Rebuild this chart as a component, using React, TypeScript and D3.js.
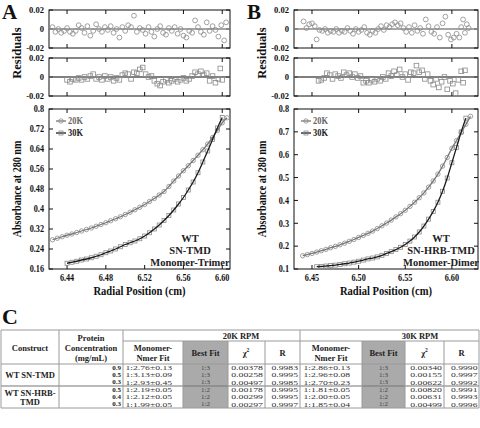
import React from "react";
import * as d3 from "d3";

const FONT = "Liberation Serif, Times New Roman, serif";

// ---------- Panel A : WT SN-TMD, Monomer-Trimer ----------
const aX20 = [6.425, 6.43, 6.435, 6.44, 6.445, 6.45, 6.455, 6.46, 6.465, 6.47, 6.475, 6.48, 6.485, 6.49, 6.495, 6.5, 6.505, 6.51, 6.515, 6.52, 6.525, 6.53, 6.535, 6.54, 6.545, 6.55, 6.555, 6.56, 6.565, 6.57, 6.575, 6.58, 6.585, 6.59, 6.595, 6.6, 6.605];
const aY20 = [0.277, 0.283, 0.289, 0.295, 0.3, 0.306, 0.312, 0.318, 0.324, 0.331, 0.338, 0.345, 0.353, 0.361, 0.369, 0.378, 0.387, 0.397, 0.407, 0.418, 0.43, 0.442, 0.456, 0.47, 0.49, 0.512, 0.532, 0.553, 0.573, 0.594, 0.615, 0.637, 0.66, 0.686, 0.714, 0.745, 0.765];
const aX30 = [6.44, 6.445, 6.45, 6.455, 6.46, 6.465, 6.47, 6.475, 6.48, 6.485, 6.49, 6.495, 6.5, 6.505, 6.51, 6.515, 6.52, 6.525, 6.53, 6.535, 6.54, 6.545, 6.55, 6.555, 6.56, 6.565, 6.57, 6.575, 6.58, 6.585, 6.59, 6.595, 6.6];
const aY30 = [0.183, 0.187, 0.191, 0.196, 0.2, 0.205, 0.211, 0.217, 0.225, 0.232, 0.24, 0.249, 0.258, 0.265, 0.272, 0.281, 0.292, 0.305, 0.32, 0.336, 0.354, 0.374, 0.396, 0.42, 0.446, 0.476, 0.508, 0.545, 0.588, 0.632, 0.678, 0.724, 0.766];
const aResX20 = [6.425, 6.428, 6.431, 6.434, 6.437, 6.44, 6.443, 6.446, 6.449, 6.452, 6.455, 6.458, 6.461, 6.464, 6.467, 6.47, 6.473, 6.476, 6.479, 6.482, 6.485, 6.488, 6.491, 6.494, 6.497, 6.5, 6.503, 6.506, 6.509, 6.512, 6.515, 6.518, 6.521, 6.524, 6.527, 6.53, 6.533, 6.536, 6.539, 6.542, 6.545, 6.548, 6.551, 6.554, 6.557, 6.56, 6.563, 6.566, 6.569, 6.572, 6.575, 6.578, 6.581, 6.584, 6.587, 6.59, 6.593, 6.596, 6.599, 6.602, 6.604];
const aResY20 = [0.002, -0.003, 0.0, -0.004, -0.002, 0.001, -0.003, -0.005, -0.002, 0.004, 0.001, -0.004, 0.003, -0.007, -0.002, 0.005, 0.0, -0.003, 0.002, -0.001, 0.003, -0.004, 0.0, -0.009, 0.002, -0.002, 0.004, 0.002, 0.014, -0.003, 0.001, -0.001, -0.005, 0.002, -0.003, -0.008, 0.0, 0.003, -0.004, -0.006, 0.001, -0.002, 0.002, -0.005, 0.0, -0.007, -0.009, -0.002, -0.004, 0.009, 0.002, -0.003, -0.006, 0.007, -0.002, 0.003, -0.001, -0.008, 0.004, -0.012, 0.007];
const aResX30 = [6.44, 6.443, 6.446, 6.449, 6.452, 6.455, 6.458, 6.461, 6.464, 6.467, 6.47, 6.473, 6.476, 6.479, 6.482, 6.485, 6.488, 6.491, 6.494, 6.497, 6.5, 6.503, 6.506, 6.509, 6.512, 6.515, 6.518, 6.521, 6.524, 6.527, 6.53, 6.533, 6.536, 6.539, 6.542, 6.545, 6.548, 6.551, 6.554, 6.557, 6.56, 6.563, 6.566, 6.569, 6.572, 6.575, 6.578, 6.581, 6.584, 6.587, 6.59, 6.593, 6.596, 6.598, 6.6];
const aResY30 = [-0.003, -0.005, -0.002, -0.003, -0.001, -0.003, 0.0, -0.002, 0.001, 0.003, -0.002, 0.0, -0.003, 0.001, -0.002, 0.0, -0.004, -0.001, -0.003, 0.002, 0.004, 0.003, -0.002, 0.005, 0.004, 0.008, 0.01, 0.003, 0.0, 0.001, -0.004, -0.007, -0.009, -0.005, -0.003, -0.006, -0.004, -0.002, -0.005, -0.003, -0.001, -0.004, -0.002, 0.001, 0.005, 0.003, 0.006, 0.002, 0.004, -0.004, 0.001, -0.006, -0.002, 0.009, -0.003];

// ---------- Panel B : WT SN-HRB-TMD, Monomer-Dimer ----------
const bX20 = [6.44, 6.445, 6.45, 6.455, 6.46, 6.465, 6.47, 6.475, 6.48, 6.485, 6.49, 6.495, 6.5, 6.505, 6.51, 6.515, 6.52, 6.525, 6.53, 6.535, 6.54, 6.545, 6.55, 6.555, 6.56, 6.565, 6.57, 6.575, 6.58, 6.585, 6.59, 6.595, 6.6, 6.605, 6.61, 6.615, 6.62];
const bY20 = [0.158, 0.163, 0.168, 0.174, 0.18, 0.186, 0.193, 0.199, 0.206, 0.213, 0.221, 0.229, 0.238, 0.247, 0.256, 0.266, 0.277, 0.289, 0.301, 0.314, 0.328, 0.342, 0.357, 0.374, 0.392, 0.412, 0.433, 0.458, 0.485, 0.515, 0.55, 0.588, 0.628, 0.662, 0.697, 0.733, 0.768];
const bX30 = [6.455, 6.46, 6.465, 6.47, 6.475, 6.48, 6.485, 6.49, 6.495, 6.5, 6.505, 6.51, 6.515, 6.52, 6.525, 6.53, 6.535, 6.54, 6.545, 6.55, 6.555, 6.56, 6.565, 6.57, 6.575, 6.58, 6.585, 6.59, 6.595, 6.6, 6.605, 6.61, 6.615];
const bY30 = [0.11, 0.111, 0.113, 0.115, 0.117, 0.12, 0.123, 0.126, 0.13, 0.134, 0.139, 0.144, 0.148, 0.153, 0.16, 0.168, 0.176, 0.185, 0.195, 0.207, 0.222, 0.24, 0.262, 0.288, 0.318, 0.352, 0.392, 0.44, 0.498, 0.565, 0.632, 0.7, 0.76];
const bResX20 = [6.441, 6.444, 6.447, 6.45, 6.453, 6.455, 6.458, 6.461, 6.464, 6.467, 6.47, 6.473, 6.476, 6.479, 6.482, 6.485, 6.488, 6.491, 6.494, 6.497, 6.5, 6.503, 6.506, 6.509, 6.512, 6.515, 6.518, 6.521, 6.524, 6.527, 6.53, 6.533, 6.536, 6.539, 6.542, 6.545, 6.548, 6.551, 6.554, 6.557, 6.56, 6.563, 6.566, 6.569, 6.572, 6.575, 6.578, 6.581, 6.584, 6.587, 6.59, 6.593, 6.596, 6.599, 6.602, 6.605, 6.608, 6.61, 6.612, 6.614, 6.616, 6.618];
const bResY20 = [0.008, 0.001, 0.005, 0.006, 0.003, -0.011, -0.001, -0.002, 0.0, -0.004, -0.002, -0.003, 0.0, -0.004, -0.002, -0.003, 0.001, -0.002, -0.005, 0.0, -0.003, -0.001, 0.002, -0.004, -0.006, -0.002, -0.004, 0.0, 0.003, -0.001, 0.004, 0.002, 0.005, 0.007, 0.004, 0.006, 0.001, -0.003, 0.002, -0.004, 0.004, -0.002, 0.001, -0.005, 0.01, 0.003, -0.003, -0.005, 0.002, -0.009, 0.006, 0.013, -0.006, -0.011, -0.009, -0.005, -0.009, 0.002, 0.01, -0.004, 0.005, 0.001];
const bResX30 = [6.457, 6.46, 6.463, 6.466, 6.469, 6.472, 6.475, 6.478, 6.481, 6.484, 6.487, 6.49, 6.493, 6.496, 6.499, 6.502, 6.505, 6.508, 6.511, 6.514, 6.517, 6.52, 6.523, 6.526, 6.529, 6.532, 6.535, 6.538, 6.541, 6.544, 6.547, 6.55, 6.553, 6.556, 6.559, 6.562, 6.565, 6.568, 6.571, 6.574, 6.577, 6.58, 6.583, 6.586, 6.589, 6.592, 6.595, 6.598, 6.601, 6.604, 6.607, 6.61, 6.612, 6.614];
const bResY30 = [-0.004, -0.003, -0.001, 0.004, 0.002, -0.002, 0.003, 0.001, -0.001, 0.005, 0.002, 0.004, 0.0, 0.003, -0.001, 0.001, -0.006, -0.004, -0.006, -0.003, -0.005, -0.002, -0.004, 0.0, -0.002, 0.004, 0.001, 0.006, 0.002, 0.008, 0.0, 0.003, -0.003, 0.005, 0.004, 0.012, 0.005, 0.007, -0.002, 0.003, -0.004, -0.008, -0.002, -0.011, -0.005, 0.0, -0.013, -0.004, -0.007, -0.017, -0.003, 0.006, -0.006, 0.007];

// ---------- axis ticks ----------
const aXTicks = [6.44, 6.48, 6.52, 6.56, 6.6];
const bXTicks = [6.45, 6.5, 6.55, 6.6];
const aYTicks = [0.16, 0.24, 0.32, 0.4, 0.48, 0.56, 0.64, 0.72, 0.8];
const bYTicks = [0.1, 0.2, 0.3, 0.4, 0.5, 0.6, 0.7, 0.8];
const resTicks = [-0.02, 0, 0.02];
const seriesNames = ["20K", "30K"];

// ---------- table C ----------
const constructs = [["WT SN-TMD"], ["WT SN-HRB-", "TMD"]];
const concentrations = ["0.9", "0.5", "0.3", "0.5", "0.4", "0.3"];
const fit20 = ["1:2.76±0.13", "1:3.13±0.09", "1:2.93±0.45", "1:2.19±0.05", "1:2.12±0.05", "1:1.99±0.05"];
const best20 = ["1:3", "1:3", "1:3", "1:2", "1:2", "1:2"];
const chi20 = ["0.00378", "0.00258", "0.00497", "0.00178", "0.00299", "0.00297"];
const r20 = ["0.9983", "0.9995", "0.9985", "0.9995", "0.9995", "0.9997"];
const fit30 = ["1:2.86±0.13", "1:2.96±0.08", "1:2.70±0.23", "1:1.81±0.05", "1:2.00±0.05", "1:1.85±0.04"];
const best30 = ["1:3", "1:3", "1:3", "1:2", "1:2", "1:2"];
const chi30 = ["0.00340", "0.00155", "0.00622", "0.00820", "0.00631", "0.00499"];
const r30 = ["0.9990", "0.9997", "0.9992", "0.9991", "0.9993", "0.9996"];

const MARK = "#8a8a8a";

function Circle({ cx, cy, r }: any) {
  return <circle cx={cx} cy={cy} r={r} fill="none" stroke={MARK} strokeWidth={0.8} />;
}
function Square({ cx, cy, s }: any) {
  return <rect x={cx - s / 2} y={cy - s / 2} width={s} height={s} fill="none" stroke={MARK} strokeWidth={0.8} />;
}

// text with optional horizontal scaling (the reference typeface proportions differ)
function T({ x, y, sx = 1, rot = 0, size, color = "#111", weight = "bold", children, ...rest }: any) {
  return (
    <text
      transform={`translate(${x},${y})${rot ? ` rotate(${rot})` : ""} scale(${sx},1)`}
      fontSize={size}
      fontWeight={weight}
      fontFamily={FONT}
      fill={color}
      {...rest}
    >
      {children}
    </text>
  );
}

function Panel(p: any) {
  const { left, right, letter } = p;
  const x = d3.scaleLinear().domain(p.xDomain).range([left, right]);
  const y = d3.scaleLinear().domain(p.yDomain).range([269, 109]);
  const ry1 = d3.scaleLinear().domain([-0.02, 0.02]).range([48, 10]);
  const ry2 = d3.scaleLinear().domain([-0.02, 0.02]).range([96, 58]);
  const line = d3.line<number>().curve(d3.curveMonotoneX);
  const fit20 = line(p.x20.map((v: number, i: number) => [x(v), y(p.y20[i])] as any));
  const fit30 = line(p.x30.map((v: number, i: number) => [x(v), y(p.y30[i])] as any));
  const tl = 4;

  const frame = (top: number, bottom: number, yScale: any, yt: number[], fmt: (v: number) => string, fs: number, sx: number) => (
    <g>
      <rect x={left} y={top} width={right - left} height={bottom - top} fill="none" stroke="#111" strokeWidth={1} />
      {p.xTicks.map((t: number) => (
        <g key={"xt" + t}>
          <line x1={x(t)} x2={x(t)} y1={bottom} y2={bottom - tl} stroke="#111" />
          <line x1={x(t)} x2={x(t)} y1={top} y2={top + tl} stroke="#111" />
        </g>
      ))}
      {yt.map((t) => (
        <g key={"yt" + t}>
          <line x1={left} x2={left + tl} y1={yScale(t)} y2={yScale(t)} stroke="#111" />
          <line x1={right} x2={right - tl} y1={yScale(t)} y2={yScale(t)} stroke="#111" />
          <T x={left - 5} y={yScale(t)} sx={sx} size={fs} textAnchor="end" dominantBaseline="central">
            {fmt(t)}
          </T>
        </g>
      ))}
    </g>
  );

  const resFmt = (v: number) => (v === 0 ? "0" : v.toFixed(2));

  return (
    <g>
      <T x={left - 47} y={19} size={21}>{letter}</T>
      {/* residuals 20K */}
      {frame(10, 48, ry1, resTicks, resFmt, 9, 0.95)}
      <line x1={left} x2={right} y1={ry1(0)} y2={ry1(0)} stroke="#888" strokeWidth={1.5} />
      {p.rx20.map((v: number, i: number) => (
        <Circle key={"r20" + i} cx={x(v)} cy={ry1(p.ry20[i])} r={2.4} />
      ))}
      {/* residuals 30K */}
      {frame(58, 96, ry2, resTicks, resFmt, 9, 0.95)}
      <line x1={left} x2={right} y1={ry2(0)} y2={ry2(0)} stroke="#555" strokeWidth={1.5} />
      {p.rx30.map((v: number, i: number) => (
        <Square key={"r30" + i} cx={x(v)} cy={ry2(p.ry30[i])} s={4.6} />
      ))}
      <T x={left - 32} y={53} rot={-90} size={12.5} textAnchor="middle" dominantBaseline="central">
        Residuals
      </T>

      {/* main plot */}
      {frame(109, 269, y, p.yTicks, p.yFmt, 10, 0.82)}
      {p.xTicks.map((t: number) => (
        <T key={"xl" + t} x={x(t)} y={281} sx={0.82} size={10} textAnchor="middle">
          {d3.format(".2f")(t)}
        </T>
      ))}
      <T x={(left + right) / 2} y={295} sx={0.88} size={12} textAnchor="middle">
        Radial Position (cm)
      </T>
      <T x={left - 32} y={189} rot={-90} sx={0.84} size={12} textAnchor="middle" dominantBaseline="central">
        Absorbance at 280 nm
      </T>

      {p.x20.map((v: number, i: number) => (
        <Circle key={"d20" + i} cx={x(v)} cy={y(p.y20[i])} r={2.2} />
      ))}
      {p.x30.map((v: number, i: number) => (
        <Square key={"d30" + i} cx={x(v)} cy={y(p.y30[i])} s={4} />
      ))}
      <path d={fit20 || ""} fill="none" stroke="#777" strokeWidth={1.3} />
      <path d={fit30 || ""} fill="none" stroke="#1a1a1a" strokeWidth={1.3} />

      {/* legend */}
      <line x1={left + 7} x2={left + 17} y1={121} y2={121} stroke="#777" strokeWidth={1.3} />
      <Circle cx={left + 12} cy={121} r={2.2} />
      <T x={left + 19} y={121} sx={0.8} size={10.5} color="#666" dominantBaseline="central">{seriesNames[0]}</T>
      <line x1={left + 7} x2={left + 17} y1={133} y2={133} stroke="#1a1a1a" strokeWidth={1.3} />
      <Square cx={left + 12} cy={133} s={4} />
      <T x={left + 19} y={133} sx={0.8} size={10.5} color="#222" dominantBaseline="central">{seriesNames[1]}</T>

      {p.ann.map((s: string, i: number) => (
        <T key={s} x={p.annX} y={238 + i * 12} size={10.5} color="#222" textAnchor="middle" dominantBaseline="central">
          {s}
        </T>
      ))}
    </g>
  );
}

function Table() {
  const top = 330, h1 = 341, h2 = 364, bottom = 408;
  const rows = d3.scaleBand<number>().domain(d3.range(concentrations.length)).range([h2, bottom]);
  const cy = (i: number) => (rows(i) as number) + rows.bandwidth() / 2;
  const vAll = [1, 59, 123, 300, 479];
  const vSub = [183, 228, 265, 362, 405, 444];
  const lc = "#9a9a9a";
  const hdr = { fontSize: 8.5, fontWeight: "bold", fontFamily: FONT, fill: "#222", textAnchor: "middle", dominantBaseline: "central" } as any;
  const sep = cy(2) + rows.bandwidth() / 2;
  const C = (props: any) => <T size={7} weight="normal" color="#333" dominantBaseline="central" {...props} />;
  return (
    <g>
      <text x={2} y={324} fontSize={22} fontWeight="bold" fontFamily={FONT} fill="#111">C</text>
      <rect x={183} y={h1} width={45} height={bottom - h1} fill="#aaaaaa" />
      <rect x={362} y={h1} width={43} height={bottom - h1} fill="#aaaaaa" />
      <line x1={1} x2={479} y1={top} y2={top} stroke={lc} />
      <line x1={123} x2={479} y1={h1} y2={h1} stroke={lc} />
      <line x1={1} x2={479} y1={h2} y2={h2} stroke={lc} />
      <line x1={1} x2={479} y1={sep} y2={sep} stroke="#777" strokeWidth={1.2} />
      <line x1={1} x2={479} y1={bottom} y2={bottom} stroke={lc} />
      {vAll.map((v) => <line key={"va" + v} x1={v} x2={v} y1={top} y2={bottom} stroke={lc} />)}
      {vSub.map((v) => <line key={"vs" + v} x1={v} x2={v} y1={h1} y2={bottom} stroke={lc} />)}

      <text x={30} y={348} {...hdr}>Construct</text>
      <text x={91} y={337.5} {...hdr}>Protein</text>
      <text x={91} y={347.5} {...hdr}>Concentration</text>
      <text x={91} y={357.5} {...hdr}>(mg/mL)</text>
      <text x={241} y={335.5} {...hdr}>20K RPM</text>
      <text x={420} y={335.5} {...hdr}>30K RPM</text>
      <text x={153} y={347.5} {...hdr}>Monomer-</text>
      <text x={153} y={357.5} {...hdr}>Nmer Fit</text>
      <text x={205.5} y={353} {...hdr}>Best Fit</text>
      <text x={246} y={353} {...hdr}>χ<tspan fontSize={5.5} dy={-3}>2</tspan></text>
      <text x={282.5} y={353} {...hdr}>R</text>
      <text x={331} y={347.5} {...hdr}>Monomer-</text>
      <text x={331} y={357.5} {...hdr}>Nmer Fit</text>
      <text x={383.5} y={353} {...hdr}>Best Fit</text>
      <text x={424.5} y={353} {...hdr}>χ<tspan fontSize={5.5} dy={-3}>2</tspan></text>
      <text x={461.5} y={353} {...hdr}>R</text>

      <text x={30} y={cy(1)} {...hdr}>{constructs[0][0]}</text>
      <text x={30} y={(cy(3) + cy(4)) / 2 - 0.5} {...hdr}>{constructs[1][0]}</text>
      <text x={30} y={(cy(4) + cy(5)) / 2 + 1.5} {...hdr}>{constructs[1][1]}</text>

      {concentrations.map((c, i) => (
        <g key={"row" + i}>
          <C x={121} y={cy(i)} weight="bold" color="#222" textAnchor="end">{c}</C>
          <C x={125.5} y={cy(i)} sx={1.38}>{fit20[i]}</C>
          <C x={205.5} y={cy(i)} color="#444" textAnchor="middle">{best20[i]}</C>
          <C x={263} y={cy(i)} sx={1.4} textAnchor="end">{chi20[i]}</C>
          <C x={298} y={cy(i)} sx={1.38} textAnchor="end">{r20[i]}</C>
          <C x={303.5} y={cy(i)} sx={1.38}>{fit30[i]}</C>
          <C x={383.5} y={cy(i)} color="#444" textAnchor="middle">{best30[i]}</C>
          <C x={442} y={cy(i)} sx={1.4} textAnchor="end">{chi30[i]}</C>
          <C x={477.5} y={cy(i)} sx={1.38} textAnchor="end">{r30[i]}</C>
        </g>
      ))}
    </g>
  );
}

export default function App() {
  return (
    <svg width={480} height={428} viewBox="0 0 480 428" style={{ position: "absolute", left: 0, top: 0, background: "#fff" }}>
      <rect width={480} height={428} fill="#fff" />
      <Panel
        letter="A" left={49} right={230} xDomain={[6.4214, 6.608]} yDomain={[0.16, 0.8]}
        xTicks={aXTicks} yTicks={aYTicks} yFmt={(v: number) => String(+v.toFixed(2))}
        x20={aX20} y20={aY20} x30={aX30} y30={aY30}
        rx20={aResX20} ry20={aResY20} rx30={aResX30} ry30={aResY30}
        ann={["WT", "SN-TMD", "Monomer-Trimer"]} annX={190}
      />
      <Panel
        letter="B" left={294} right={478} xDomain={[6.4307, 6.628]} yDomain={[0.1, 0.8]}
        xTicks={bXTicks} yTicks={bYTicks} yFmt={(v: number) => String(+v.toFixed(1))}
        x20={bX20} y20={bY20} x30={bX30} y30={bY30}
        rx20={bResX20} ry20={bResY20} rx30={bResX30} ry30={bResY30}
        ann={["WT", "SN-HRB-TMD", "Monomer-Dimer"]} annX={441}
      />
      <Table />
    </svg>
  );
}
